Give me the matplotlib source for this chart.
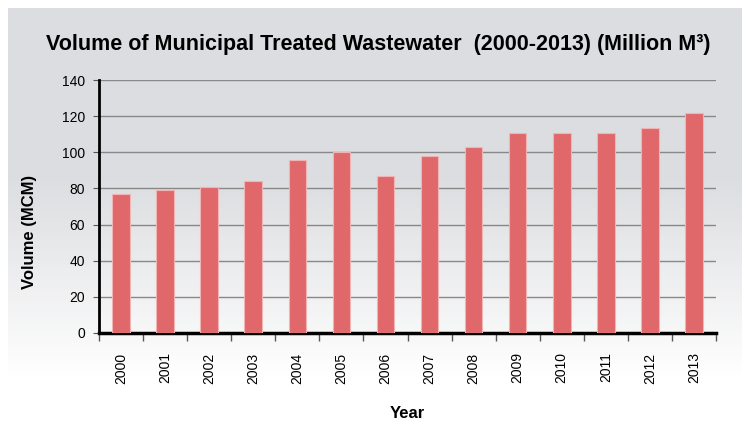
"""
Volume of municipal treated wastewater, 2000-2013
"""

import numpy as np
import matplotlib.pyplot as plt
from matplotlib.colors import LinearSegmentedColormap

years = ["2000", "2001", "2002", "2003", "2004", "2005", "2006",
         "2007", "2008", "2009", "2010", "2011", "2012", "2013"]
volume = [77, 79, 81, 84, 95.5, 100, 87, 98, 103, 110.5, 110.5, 110.5, 113.5, 122]
y_ticks = [0, 20, 40, 60, 80, 100, 120, 140]

plt.rcParams["font.family"] = ["DejaVu Sans Condensed", "Liberation Sans", "DejaVu Sans"]

fig = plt.figure(figsize=(7.42, 4.21), dpi=100)
fig.patch.set_facecolor("white")

# grey panel fading to white towards the bottom
bg = fig.add_axes([8 / 742, 0, 1 - 8 / 742, 1 - 8 / 421], zorder=-10)
grad = np.concatenate([np.zeros(40), np.linspace(0, 1, 50), np.ones(10)])[:, None]
cmap = LinearSegmentedColormap.from_list("panel", ["#dcdde0", "#ffffff"])
bg.imshow(grad, aspect="auto", cmap=cmap, extent=[0, 1, 0, 1], origin="upper")
bg.axis("off")

ax = fig.add_axes([99 / 742, 1 - 333 / 421, (716 - 99) / 742, (333 - 80) / 421])
ax.set_facecolor("none")

x = np.arange(len(years))
ax.bar(x, volume, width=0.4, color="#e0686a", edgecolor="#f0b4b6", linewidth=0.8, zorder=3)

ax.set_xlim(-0.5, len(years) - 0.5)
ax.set_ylim(0, 140)
ax.set_yticks(y_ticks)
ax.yaxis.grid(True, color="#888888", linewidth=1)
ax.set_axisbelow(True)

ax.set_xticks(x)
ax.set_xticklabels(years, rotation=90, fontsize=10)
ax.tick_params(axis="x", length=0, pad=14)
ax.set_xticks(np.arange(-0.5, len(years)), minor=True)
ax.tick_params(axis="x", which="minor", length=6, color="#555555", width=1)
ax.tick_params(axis="y", labelsize=10, length=4, color="#555555", pad=6)

for side in ["top", "right"]:
    ax.spines[side].set_visible(False)
ax.spines["left"].set_linewidth(2)
ax.spines["bottom"].set_linewidth(2.5)

ax.set_xlabel("Year", fontsize=12, fontweight="bold", labelpad=16)
ax.set_ylabel("Volume (MCM)", fontsize=12, fontweight="bold")
ax.yaxis.set_label_coords(-0.10, 0.40)

fig.text(0.51, 0.895, "Volume of Municipal Treated Wastewater  (2000-2013) (Million M³)",
         ha="center", va="center", fontsize=15.5, fontweight="bold")

fig.savefig("out.png", dpi=100)
